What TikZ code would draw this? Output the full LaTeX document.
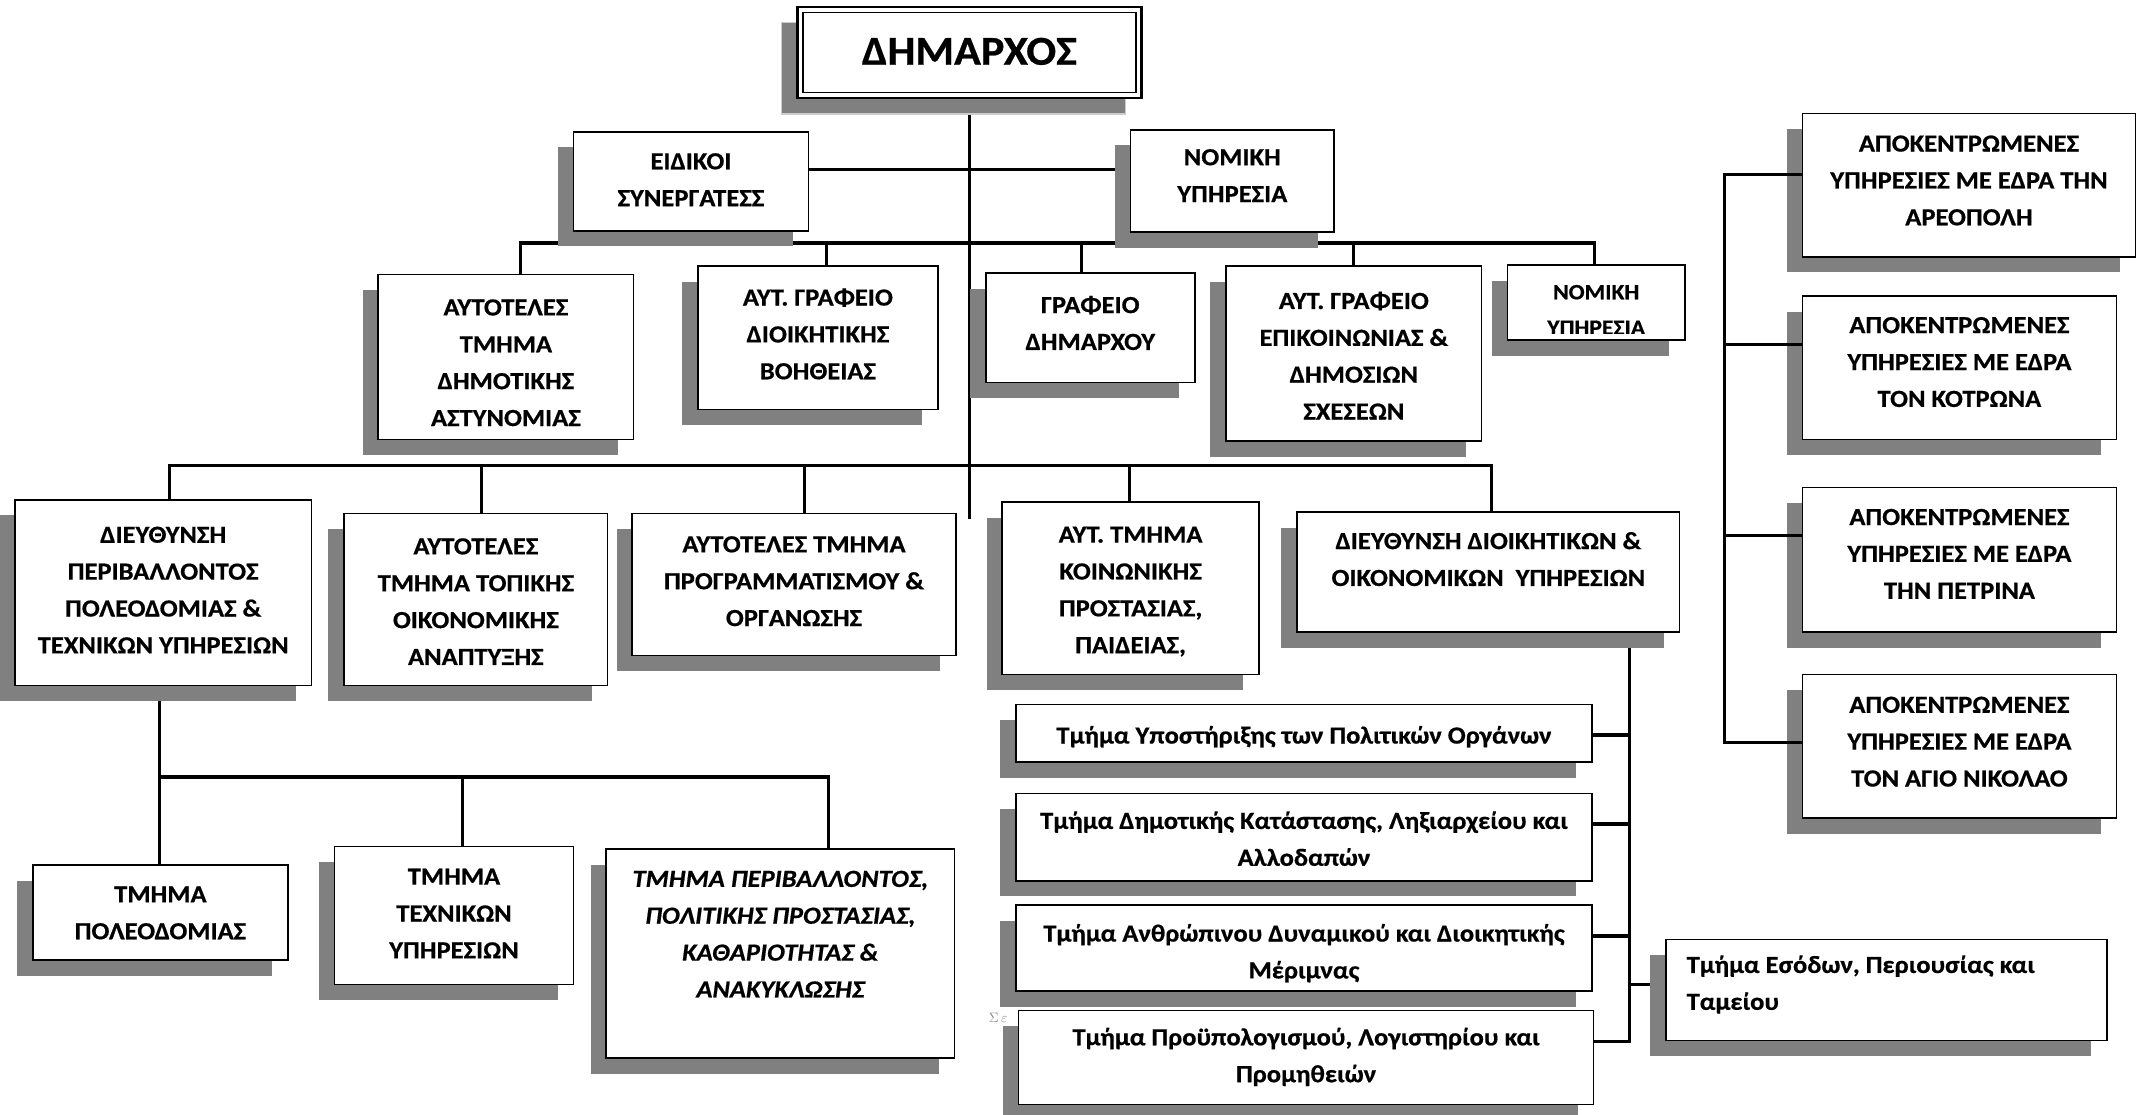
\documentclass[tikz,border=0pt]{standalone}
\usepackage{fontspec}
\setmainfont{Carlito}[FakeStretch=1.08, BoldFeatures={FakeBold=0.6}, BoldItalicFeatures={FakeBold=0.6}]
\usetikzlibrary{shadows}
\pgfdeclarelayer{bg}
\pgfsetlayers{bg,main}
\tikzset{
  conn/.style={line width=2.3pt, line join=miter},
  bx/.style={draw=black, line width=1.2pt, fill=white, inner sep=0pt, outer sep=0pt},
  sh/.style={drop shadow={shadow xshift=-11.5pt, shadow yshift=-11.5pt, fill=black!50, opacity=1}},
  dhsh/.style={drop shadow={shadow xshift=-11.5pt, shadow yshift=-11.5pt, fill=black!50, draw=black!20, line width=0.8pt, opacity=1}},
  btxt/.style={anchor=north, align=center, inner sep=0pt, font=\fontsize{18}{27}\selectfont\bfseries},
  ltxt/.style={anchor=north west, align=left, inner sep=0pt, font=\fontsize{18}{27}\selectfont\bfseries},
}
\newcommand{\obox}[6][sh]{%
  \pgfmathsetmacro{\obw}{#5-#3}%
  \pgfmathsetmacro{\obh}{#6-#4}%
  \pgfmathsetmacro{\obx}{(#3+#5)/2}%
  \pgfmathsetmacro{\oby}{(#4+#6)/2}%
  \node[bx, minimum width=\obw pt, minimum height=\obh pt, #1] (#2) at (\obx,\oby) {};%
}
\begin{document}
\begin{tikzpicture}[x=1pt,y=-1pt]
\useasboundingbox (0,0) rectangle (1568,816);

% ---------- boxes ----------
\obox[dhsh, line width=1.6pt]{dh}{584}{5}{836}{72}
\draw[line width=0.9pt] ([shift={(4,4)}]dh.north west) rectangle ([shift={(-4,-4)}]dh.south east);
\node[btxt, font=\fontsize{30}{36}\selectfont\bfseries] (dht) at (710,27.5) {ΔΗΜΑΡΧΟΣ};

\obox{eid}{420}{96.5}{592}{169}
\node[btxt] (eidt) at (506,112) {ΕΙΔΙΚΟΙ\\ΣΥΝΕΡΓΑΤΕΣΣ};
\obox{nom}{828}{95}{977}{170}
\node[btxt] (nomt) at (902.5,109) {ΝΟΜΙΚΗ\\ΥΠΗΡΕΣΙΑ};

\obox{ast}{277}{201}{464}{322}
\node[btxt] (astt) at (370.5,219) {ΑΥΤΟΤΕΛΕΣ\\ΤΜΗΜΑ\\ΔΗΜΟΤΙΚΗΣ\\ΑΣΤΥΝΟΜΙΑΣ};
\obox{boh}{511}{195}{687}{300}
\node[btxt] (boht) at (599,211) {ΑΥΤ. ΓΡΑΦΕΙΟ\\ΔΙΟΙΚΗΤΙΚΗΣ\\ΒΟΗΘΕΙΑΣ};
\obox{gd}{722}{200}{875}{280}
\node[btxt] (gdt) at (798.5,216.5) {ΓΡΑΦΕΙΟ\\ΔΗΜΑΡΧΟΥ};
\obox{epi}{898}{195}{1085}{323}
\node[btxt] (epit) at (991.5,213.5) {ΑΥΤ. ΓΡΑΦΕΙΟ\\ΕΠΙΚΟΙΝΩΝΙΑΣ \&\\ΔΗΜΟΣΙΩΝ\\ΣΧΕΣΕΩΝ};
\obox{nomb}{1104}{194}{1234}{249}
\begin{scope}
\clip (1105,195) rectangle (1233,244);
\node[btxt, font=\fontsize{16}{26}\selectfont\bfseries] (nombt) at (1169,208.5) {ΝΟΜΙΚΗ\\ΥΠΗΡΕΣΙΑ};
\end{scope}

\obox{dir}{11}{366}{228}{502}
\node[btxt] (dirt) at (119.5,385.5) {ΔΙΕΥΘΥΝΣΗ\\ΠΕΡΙΒΑΛΛΟΝΤΟΣ\\ΠΟΛΕΟΔΟΜΙΑΣ \&\\ΤΕΧΝΙΚΩΝ ΥΠΗΡΕΣΙΩΝ};
\obox{top}{252}{376}{445}{502}
\node[btxt] (topt) at (348.5,394) {ΑΥΤΟΤΕΛΕΣ\\ΤΜΗΜΑ ΤΟΠΙΚΗΣ\\ΟΙΚΟΝΟΜΙΚΗΣ\\ΑΝΑΠΤΥΞΗΣ};
\obox{pro}{463}{376}{700}{480}
\node[btxt] (prot) at (581.5,392.5) {ΑΥΤΟΤΕΛΕΣ ΤΜΗΜΑ\\ΠΡΟΓΡΑΜΜΑΤΙΣΜΟΥ \&\\ΟΡΓΑΝΩΣΗΣ};
\obox{koi}{734}{367.5}{922}{494}
\node[btxt] (koit) at (828,385.5) {ΑΥΤ. ΤΜΗΜΑ\\ΚΟΙΝΩΝΙΚΗΣ\\ΠΡΟΣΤΑΣΙΑΣ,\\ΠΑΙΔΕΙΑΣ,};
\obox{dio}{950}{375}{1230}{463}
\node[btxt] (diot) at (1090,389.5) {ΔΙΕΥΘΥΝΣΗ ΔΙΟΙΚΗΤΙΚΩΝ \&\\ΟΙΚΟΝΟΜΙΚΩΝ\ \ ΥΠΗΡΕΣΙΩΝ};

\obox{pol}{24}{633.5}{211}{703}
\node[btxt] (polt) at (117.5,649) {ΤΜΗΜΑ\\ΠΟΛΕΟΔΟΜΙΑΣ};
\obox{tex}{245}{620}{420}{721}
\node[btxt] (text) at (332.5,636) {ΤΜΗΜΑ\\ΤΕΧΝΙΚΩΝ\\ΥΠΗΡΕΣΙΩΝ};
\obox{per}{444}{622}{699}{775}
\node[btxt, font=\fontsize{18}{27}\selectfont\bfseries\itshape] (pert) at (571.5,637.5) {ΤΜΗΜΑ ΠΕΡΙΒΑΛΛΟΝΤΟΣ,\\ΠΟΛΙΤΙΚΗΣ ΠΡΟΣΤΑΣΙΑΣ,\\ΚΑΘΑΡΙΟΤΗΤΑΣ \&\\ΑΝΑΚΥΚΛΩΣΗΣ};

% Sigma artefact (under the last box)
\begin{pgfonlayer}{bg}
\node[inner sep=0pt, text=black!45, font=\fontsize{10}{10}\selectfont] (sig) at (731,745.5) {$\Sigma$\,$\varepsilon$};
\end{pgfonlayer}

\obox{r1}{744}{516}{1166}{558}
\node[btxt] (r1t) at (955,531.5) {Τμήμα Υποστήριξης των Πολιτικών Οργάνων};
\obox{r2}{744}{581}{1166}{645}
\node[btxt] (r2t) at (955,594) {Τμήμα Δημοτικής Κατάστασης, Ληξιαρχείου και\\Αλλοδαπών};
\obox{r3}{744}{663}{1166}{726}
\node[btxt] (r3t) at (955,676.5) {Τμήμα Ανθρώπινου Δυναμικού και Διοικητικής\\Μέριμνας};
\obox{r4}{746}{740}{1167}{809}
\node[btxt] (r4t) at (956.5,752.5) {Τμήμα Προϋπολογισμού, Λογιστηρίου και\\Προμηθειών};
\obox{r5}{1220}{688}{1543}{762}
\node[ltxt] (r5t) at (1235,699.5) {Τμήμα Εσόδων, Περιουσίας και\\Ταμείου};

\obox{a1}{1320}{83}{1564}{188}
\node[btxt] (a1t) at (1442,99) {ΑΠΟΚΕΝΤΡΩΜΕΝΕΣ\\ΥΠΗΡΕΣΙΕΣ ΜΕ ΕΔΡΑ ΤΗΝ\\ΑΡΕΟΠΟΛΗ};
\obox{a2}{1320}{217}{1550}{322}
\node[btxt] (a2t) at (1435,232) {ΑΠΟΚΕΝΤΡΩΜΕΝΕΣ\\ΥΠΗΡΕΣΙΕΣ ΜΕ ΕΔΡΑ\\ΤΟΝ ΚΟΤΡΩΝΑ};
\obox{a3}{1320}{357}{1550}{463}
\node[btxt] (a3t) at (1435,372.5) {ΑΠΟΚΕΝΤΡΩΜΕΝΕΣ\\ΥΠΗΡΕΣΙΕΣ ΜΕ ΕΔΡΑ\\ΤΗΝ ΠΕΤΡΙΝΑ};
\obox{a4}{1320}{494}{1550}{599}
\node[btxt] (a4t) at (1435,510) {ΑΠΟΚΕΝΤΡΩΜΕΝΕΣ\\ΥΠΗΡΕΣΙΕΣ ΜΕ ΕΔΡΑ\\ΤΟΝ ΑΓΙΟ ΝΙΚΟΛΑΟ};

% ---------- coordinates ----------
\coordinate (trk) at (710,380);
\coordinate (ln1) at (700,124);
\coordinate (bB1) at (381.5,178);
\coordinate (bB2) at (605,178);
\coordinate (bB3) at (792,178);
\coordinate (bB4) at (991.5,178);
\coordinate (bB5) at (1168,178);
\coordinate (bC1) at (124,341);
\coordinate (bC2) at (352.5,341);
\coordinate (bC3) at (589,341);
\coordinate (bC4) at (827.5,341);
\coordinate (bC5) at (1092,341);
\coordinate (dD1) at (117,569);
\coordinate (dD2) at (339,569);
\coordinate (dD3) at (606.5,569);
\coordinate (vR) at (1193.5,762.5);
\coordinate (s1) at (1193.5,538.3);
\coordinate (s2) at (1193.5,603.5);
\coordinate (s3) at (1193.5,685.5);
\coordinate (s5) at (1193.5,720.7);
\coordinate (aT) at (1263,128);
\coordinate (a2s) at (1263,252);
\coordinate (a3s) at (1263,392);
\coordinate (aB) at (1263,544);

% ---------- connectors (behind boxes and shadows) ----------
\begin{pgfonlayer}{bg}
\draw[conn] (dh.south -| trk) -- (trk);
\draw[conn] (eid.east |- ln1) -- (nom.west |- ln1);
\draw[conn] (bB1 |- ast.north) -- (bB1) -- (bB5) -- (bB5 |- nomb.north);
\draw[conn] (bB2) -- (bB2 |- boh.north);
\draw[conn] (bB3) -- (bB3 |- gd.north);
\draw[conn] (bB4) -- (bB4 |- epi.north);
\draw[conn] (bC1 |- dir.north) -- (bC1) -- (bC5) -- (bC5 |- dio.north);
\draw[conn] (bC2) -- (bC2 |- top.north);
\draw[conn] (bC3) -- (bC3 |- pro.north);
\draw[conn] (bC4) -- (bC4 |- koi.north);
\draw[conn] (dD1 |- dir.south) -- (dD1 |- pol.north);
\draw[conn] (dD1) -- (dD3) -- (dD3 |- per.north);
\draw[conn] (dD2) -- (dD2 |- tex.north);
\draw[conn] (vR |- dio.south) -- (vR) -- (vR -| r4.east);
\draw[conn] (s1) -- (s1 -| r1.east);
\draw[conn] (s2) -- (s2 -| r2.east);
\draw[conn] (s3) -- (s3 -| r3.east);
\draw[conn] (s5) -- (s5 -| r5.west);
\end{pgfonlayer}

% right-hand column connectors (on top of shadows)
\draw[conn] (aT -| a1.west) -- (aT) -- (aB) -- (aB -| a4.west);
\draw[conn] (a2s) -- (a2s -| a2.west);
\draw[conn] (a3s) -- (a3s -| a3.west);
\end{tikzpicture}
\end{document}
